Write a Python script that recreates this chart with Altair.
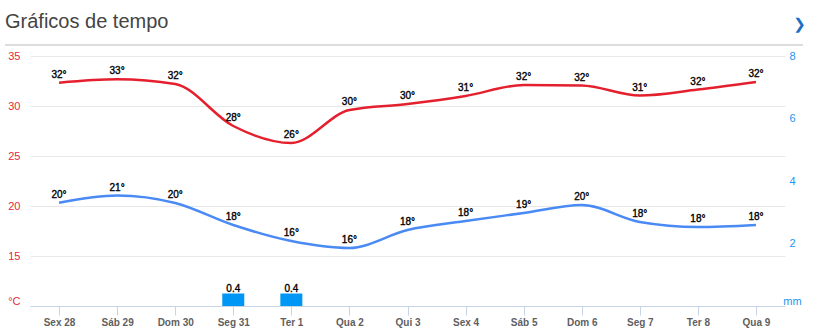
import altair as alt
import pandas as pd

days = ["Sex 28", "Sáb 29", "Dom 30", "Seg 31", "Ter 1", "Qua 2", "Qui 3",
        "Sex 4", "Sáb 5", "Dom 6", "Seg 7", "Ter 8", "Qua 9"]
max_curve = [32.33, 32.67, 32.2, 28.0, 26.3, 29.6, 30.2, 31.0, 32.1, 32.05, 31.05, 31.65, 32.4]
max_labels = [32, 33, 32, 28, 26, 30, 30, 31, 32, 32, 31, 32, 32]
min_curve = [20.33, 21.05, 20.3, 18.1, 16.5, 15.8, 17.6, 18.5, 19.3, 20.1, 18.4, 17.9, 18.1]
min_labels = [20, 21, 20, 18, 16, 16, 18, 18, 19, 20, 18, 18, 18]
rain_mm = [0, 0, 0, 0.4, 0.4, 0, 0, 0, 0, 0, 0, 0, 0]
temp_ticks = [10, 15, 20, 25, 30, 35]
rain_ticks = [0, 2, 4, 6, 8]
title_text = ["Gráficos de tempo"]

RED = "#e5202e"
BLUE = "#4a8af4"
BAR = "#0096f5"
RLAB = "#e8283a"
BLAB = "#2196f3"
FONT = "Liberation Sans"

temp = pd.DataFrame({
    "day": days * 2,
    "series": ["max"] * len(days) + ["min"] * len(days),
    "value": max_curve + min_curve,
    "label": [f"{v}°" for v in max_labels + min_labels],
})
rain = pd.DataFrame({"day": days, "mm": rain_mm})
ttl = pd.DataFrame({"t": title_text})

xenc = alt.X("day:N", sort=days, scale=alt.Scale(type="point", padding=0.5),
             axis=alt.Axis(title=None, labelAngle=0, labelColor="#5f5f5f", labelFontWeight="bold",
                           labelFontSize=10, labelFont=FONT, domainColor="#c8d4e6", tickColor="#c8d4e6",
                           tickSize=9, labelPadding=2, grid=False))

yt = alt.Y("value:Q", scale=alt.Scale(domain=[10, 35], nice=False, zero=False),
           axis=alt.Axis(orient="left", title=None, values=temp_ticks,
                         labelExpr="datum.value == 10 ? '°C' : datum.label",
                         labelBaseline={"condition": {"test": "datum.value == 10", "value": "bottom"}, "value": "middle"},
                         grid=True, gridColor="#e8e8e8", domain=False, ticks=False,
                         labelColor=RLAB, labelFontSize=11, labelFont=FONT, labelPadding=10))

color = alt.Color("series:N", scale=alt.Scale(domain=["max", "min"], range=[RED, BLUE]), legend=None)

lines = alt.Chart(temp).mark_line(interpolate="monotone", strokeWidth=2.5).encode(
    x=xenc, y=yt, color=color, detail="series:N")
labels = alt.Chart(temp).mark_text(baseline="alphabetic", dy=-5, fontSize=10, font=FONT, color="#000",
                                   stroke="#000", strokeWidth=0.35).encode(
    x=alt.X("day:N", sort=days), y=alt.Y("value:Q"), text="label:N")
temp_layer = alt.layer(lines, labels)

yr = alt.Y("mm:Q", scale=alt.Scale(domain=[0, 8], nice=False),
           axis=alt.Axis(orient="right", title=None, values=rain_ticks,
                         labelExpr="datum.value == 0 ? 'mm' : datum.label",
                         labelBaseline={"condition": {"test": "datum.value == 0", "value": "bottom"}, "value": "middle"},
                         grid=False, domain=False, ticks=False, labelAlign="center",
                         labelColor=BLAB, labelFontSize=11, labelFont=FONT, labelPadding=7))
bars = alt.Chart(rain).mark_bar(size=22, color=BAR).encode(x=alt.X("day:N", sort=days), y=yr)
bar_labels = alt.Chart(rain).transform_filter("datum.mm > 0").mark_text(
    baseline="alphabetic", dy=-2, fontSize=10, font=FONT, color="#000",
    stroke="#000", strokeWidth=0.35).encode(
    x=alt.X("day:N", sort=days), y=alt.Y("mm:Q"), text=alt.Text("mm:Q", format=".1f"))
rain_layer = alt.layer(bars, bar_labels)

sep = alt.Chart(ttl).mark_rule(color="#dddddd", strokeWidth=2).encode(
    x=alt.value(-25), x2=alt.value(773), y=alt.value(-11))
title = alt.Chart(ttl).mark_text(align="left", baseline="alphabetic", fontSize=20, font=FONT,
                                 color="#444444").encode(x=alt.value(-25), y=alt.value(-28), text="t:N")
chev = alt.Chart(ttl).mark_text(text="❯", fontSize=15, color="#1a6fc4", font="DejaVu Sans").encode(
    x=alt.value(769.5), y=alt.value(-32))

chart = alt.layer(temp_layer, rain_layer, sep, title, chev).resolve_scale(y="independent").properties(
    width=755, height=250,
    autosize=alt.AutoSizeParams(type="none"),
    padding={"left": 30, "top": 56, "right": 32, "bottom": 27},
).configure_view(stroke=None)

chart.save("out.html", embed_options={"renderer": "svg", "actions": False})
